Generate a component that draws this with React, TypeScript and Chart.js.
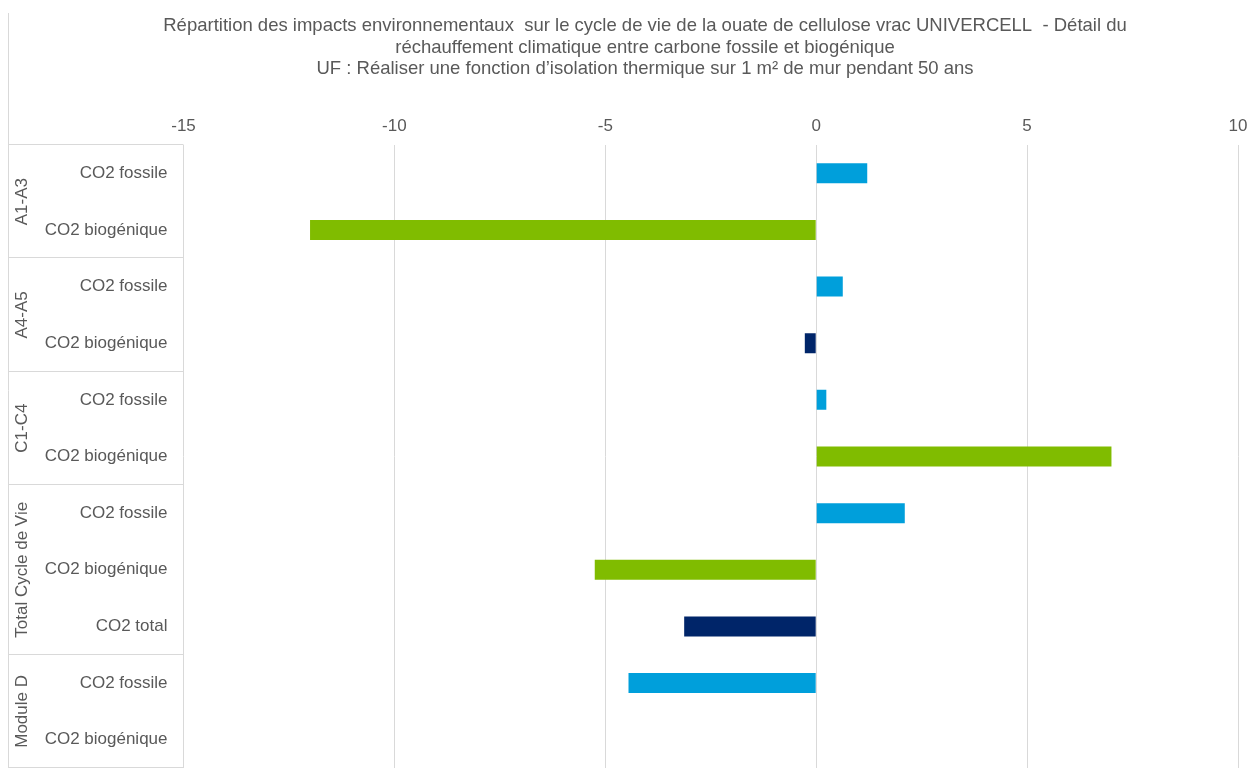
import { Chart, registerables, Plugin } from 'chart.js';
import { useEffect, useRef } from 'react';

Chart.register(...registerables);

const TITLE_LINES = [
  'Répartition des impacts environnementaux  sur le cycle de vie de la ouate de cellulose vrac UNIVERCELL  - Détail du',
  'réchauffement climatique entre carbone fossile et biogénique',
  'UF : Réaliser une fonction d’isolation thermique sur 1 m² de mur pendant 50 ans',
];

const GROUPS = ['A1-A3', 'A4-A5', 'C1-C4', 'Total Cycle de Vie', 'Module D'];
const GROUP_SIZES = [2, 2, 2, 3, 2];

const CATEGORIES = [
  'CO2 fossile', 'CO2 biogénique',
  'CO2 fossile', 'CO2 biogénique',
  'CO2 fossile', 'CO2 biogénique',
  'CO2 fossile', 'CO2 biogénique', 'CO2 total',
  'CO2 fossile', 'CO2 biogénique',
];

const VALUES = [1.21, -12.0, 0.63, -0.27, 0.24, 7.0, 2.1, -5.25, -3.13, -4.45, 0];

const BLUE = '#009fdb';
const GREEN = '#80bc00';
const NAVY = '#002569';
const BAR_COLORS = [BLUE, GREEN, BLUE, NAVY, BLUE, GREEN, BLUE, GREEN, NAVY, BLUE, GREEN];

const X_MIN = -15;
const X_MAX = 10;
const X_STEP = 5;

const TEXT = '#595959';
const LINE = '#d9d9d9';
const FONT = "'Liberation Sans', Arial, sans-serif";

// title, row labels and the group table on the left
const tablePlugin: Plugin<'bar'> = {
  id: 'tableLabels',
  afterDraw(chart) {
    const { ctx, chartArea } = chart;
    const yScale = chart.scales.y;
    const n = CATEGORIES.length;
    const rowH = (chartArea.bottom - chartArea.top) / n;
    ctx.save();

    // title
    ctx.fillStyle = TEXT;
    ctx.font = `18.5px ${FONT}`;
    ctx.textAlign = 'center';
    ctx.textBaseline = 'middle';
    TITLE_LINES.forEach((line, i) => ctx.fillText(line, 645, 26 + i * 21.5));

    // frame left line
    ctx.strokeStyle = LINE;
    ctx.lineWidth = 1;
    ctx.beginPath();
    ctx.moveTo(8.5, 13);
    ctx.lineTo(8.5, chartArea.bottom);
    ctx.stroke();

    // horizontal lines of the table
    const left = 8;
    const right = chartArea.left;
    let idx = 0;
    const lines = [chartArea.top];
    GROUP_SIZES.forEach((s) => {
      idx += s;
      lines.push(chartArea.top + idx * rowH);
    });
    ctx.beginPath();
    lines.forEach((y) => {
      const yy = Math.round(y) - 0.5;
      ctx.moveTo(left, yy);
      ctx.lineTo(right, yy);
    });
    ctx.stroke();

    // category labels
    ctx.fillStyle = TEXT;
    ctx.font = `17px ${FONT}`;
    ctx.textAlign = 'right';
    ctx.textBaseline = 'middle';
    CATEGORIES.forEach((c, i) => {
      ctx.fillText(c, chartArea.left - 16, yScale.getPixelForValue(i));
    });

    // group labels, rotated
    idx = 0;
    GROUPS.forEach((g, gi) => {
      const y0 = chartArea.top + idx * rowH;
      idx += GROUP_SIZES[gi];
      const y1 = chartArea.top + idx * rowH;
      ctx.save();
      ctx.translate(22, (y0 + y1) / 2);
      ctx.rotate(-Math.PI / 2);
      ctx.textAlign = 'center';
      ctx.textBaseline = 'middle';
      ctx.fillText(g, 0, 0);
      ctx.restore();
    });

    ctx.restore();
  },
};

export default function App() {
  const canvasRef = useRef<HTMLCanvasElement>(null);

  useEffect(() => {
    document.body.style.margin = '0';
    document.body.style.overflow = 'hidden';
    if (!canvasRef.current) return;
    const chart = new Chart(canvasRef.current, {
      type: 'bar',
      data: {
        labels: CATEGORIES.map((c, i) => `${i}-${c}`),
        datasets: [
          {
            data: VALUES,
            backgroundColor: BAR_COLORS,
            barThickness: 20,
            borderWidth: 0,
            inflateAmount: 0,
          },
        ],
      },
      options: {
        indexAxis: 'y',
        animation: false,
        responsive: true,
        maintainAspectRatio: false,
        layout: { autoPadding: false, padding: { left: 183.5, right: 12, top: 0, bottom: 1 } },
        plugins: {
          legend: { display: false },
          tooltip: { enabled: false },
          title: { display: false },
        },
        scales: {
          x: {
            position: 'top',
            min: X_MIN,
            max: X_MAX,
            afterFit: (scale) => {
              scale.height = 145;
              scale.paddingLeft = 0;
              scale.paddingRight = 0;
            },
            ticks: {
              stepSize: X_STEP,
              color: TEXT,
              font: { family: FONT, size: 17 },
              padding: 8,
            },
            grid: { color: LINE, drawTicks: false },
            border: { display: false },
          },
          y: {
            display: false,
            grid: { display: false },
          },
        },
      },
      plugins: [tablePlugin],
    });
    return () => {
      chart.destroy();
    };
  }, []);

  return (
    <div style={{ position: 'relative', width: 1250, height: 769 }}>
      <canvas ref={canvasRef} />
    </div>
  );
}
